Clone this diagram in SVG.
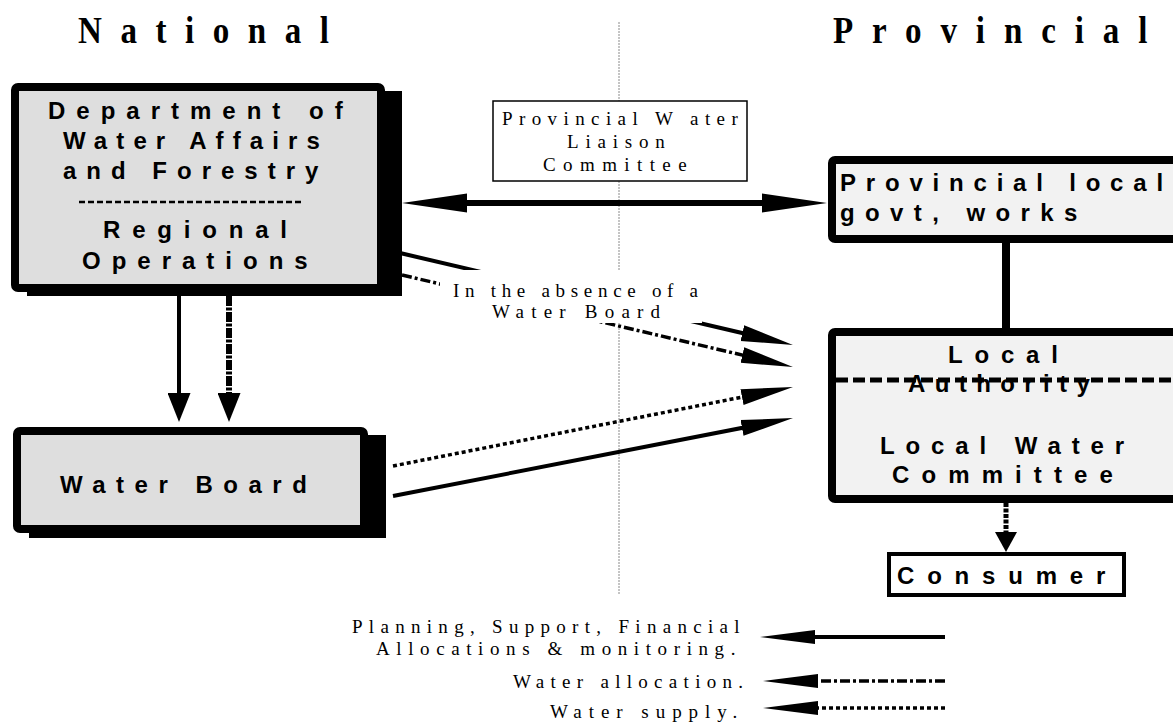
<svg xmlns="http://www.w3.org/2000/svg" width="1173" height="722" viewBox="0 0 1173 722">
<style>
.title{font-family:"Liberation Serif","Times New Roman",serif;font-weight:bold;font-size:38px;fill:#000}
.bold{font-family:"Liberation Sans",Arial,sans-serif;font-weight:bold;font-size:24px;fill:#000}
.serif{font-family:"Liberation Serif","Times New Roman",serif;font-size:19px;fill:#000}
.box{stroke:#000;stroke-width:8}
.shadow{fill:#000}
.solid{stroke:#000;stroke-width:4;fill:none}
.dashdot{stroke:#000;stroke-width:3.5;stroke-dasharray:10 3 3 3;fill:none}
.dotted{stroke:#000;stroke-width:3.5;stroke-dasharray:4 3;fill:none}
.thick{stroke:#000;stroke-width:6;stroke-dasharray:10 1.5 3 1.5;fill:none}
</style>
<defs>
<marker id="dbl" markerUnits="userSpaceOnUse" viewBox="0 0 65 20" markerWidth="65" markerHeight="20" refX="37" refY="10" orient="auto-start-reverse"><path d="M0,0.5 L65,10 L0,19.5 Z" fill="#000"/></marker>
<marker id="vh" markerUnits="userSpaceOnUse" viewBox="0 0 29 23" markerWidth="29" markerHeight="23" refX="19" refY="11.5" orient="auto"><path d="M0,0 L29,11.5 L0,23 Z" fill="#000"/></marker>
<marker id="dh" markerUnits="userSpaceOnUse" viewBox="0 0 52 18" markerWidth="52" markerHeight="18" refX="32" refY="9" orient="auto"><path d="M0,1 L52,9 L0,17 Z" fill="#000"/></marker>
<marker id="ch" markerUnits="userSpaceOnUse" viewBox="0 0 20 22" markerWidth="20" markerHeight="22" refX="10" refY="11" orient="auto"><path d="M0,0 L20,11 L0,22 Z" fill="#000"/></marker>
<marker id="lh" markerUnits="userSpaceOnUse" viewBox="0 0 55 14" markerWidth="55" markerHeight="14" refX="35" refY="7" orient="auto"><path d="M0,0 L55,7 L0,14 Z" fill="#000"/></marker>
</defs>
<rect width="1173" height="722" fill="#fff"/>

<g id="divider">
<line x1="619" y1="22" x2="619" y2="595" stroke="#8a8a8a" stroke-width="1" stroke-dasharray="2 1"/>
</g>

<g id="titles">
<text class="title" transform="translate(78,43) scale(0.87,1)" style="letter-spacing:21.3px">National</text>
<text class="title" transform="translate(833,43) scale(0.87,1)" style="letter-spacing:21.7px">Provincial</text>
</g>

<g id="dwaf">
<rect class="shadow" x="27" y="91" width="375" height="205"/>
<rect class="box" x="15" y="87" width="366" height="201" rx="3" fill="#dedede"/>
<text class="bold" x="48" y="119" style="letter-spacing:11px">Department of</text>
<text class="bold" x="63" y="149" style="letter-spacing:9.1px">Water Affairs</text>
<text class="bold" x="63" y="179" style="letter-spacing:10px">and Forestry</text>
<line x1="79" y1="202" x2="303" y2="202" stroke="#000" stroke-width="2.5" stroke-dasharray="6 3"/>
<text class="bold" x="103" y="238" style="letter-spacing:11.8px">Regional</text>
<text class="bold" x="82" y="269" style="letter-spacing:11px">Operations</text>
</g>

<g id="water-board">
<rect class="shadow" x="29" y="435" width="357" height="103"/>
<rect class="box" x="17" y="431" width="347" height="98" rx="3" fill="#dedede"/>
<text class="bold" x="60" y="493" style="letter-spacing:10.5px">Water Board</text>
</g>

<g id="provincial-local-govt">
<rect class="box" x="832" y="160" width="360" height="79" rx="3" fill="#f2f2f2"/>
<text class="bold" x="840" y="191" style="letter-spacing:9.8px">Provincial local</text>
<text class="bold" x="840" y="221" style="letter-spacing:10.4px">govt, works</text>
</g>

<g id="local-authority">
<rect class="box" x="832" y="332" width="360" height="167" rx="3" fill="#f2f2f2"/>
<text class="bold" x="948" y="363" style="letter-spacing:11.8px">Local</text>
<text class="bold" x="908" y="392" style="letter-spacing:9.4px">Authority</text>
<line x1="836" y1="380" x2="1173" y2="380" stroke="#000" stroke-width="5" stroke-dasharray="12 5"/>
<text class="bold" x="880" y="454" style="letter-spacing:10.9px">Local Water</text>
<text class="bold" x="892" y="483" style="letter-spacing:12.1px">Committee</text>
</g>

<g id="consumer">
<rect x="889" y="554" width="235" height="41" fill="#fff" stroke="#000" stroke-width="4"/>
<text class="bold" x="897" y="584" style="letter-spacing:12.8px">Consumer</text>
</g>

<g id="connectors">
<line x1="430" y1="203" x2="799" y2="203" stroke="#000" stroke-width="6" marker-start="url(#dbl)" marker-end="url(#dbl)"/>
<line class="solid" x1="179" y1="292" x2="179" y2="412" marker-end="url(#vh)"/>
<line class="thick" x1="229" y1="296" x2="229" y2="412" marker-end="url(#vh)"/>
<line class="solid" x1="400" y1="253" x2="773.5" y2="340.4" marker-end="url(#dh)"/>
<line class="dashdot" x1="402" y1="275" x2="773.5" y2="362.4" marker-end="url(#dh)"/>
<line class="dotted" x1="393" y1="466" x2="773.4" y2="390.9" marker-end="url(#dh)"/>
<line class="solid" x1="393" y1="496" x2="773.4" y2="421.8" marker-end="url(#dh)"/>
<line x1="1006" y1="243" x2="1006" y2="330" stroke="#000" stroke-width="8"/>
<line stroke="#000" stroke-width="5" stroke-dasharray="4 1.5" x1="1006" y1="503" x2="1006" y2="542" marker-end="url(#ch)"/>
</g>

<g id="liaison-committee">
<rect x="493" y="101" width="254" height="80" fill="#fff" stroke="#000" stroke-width="1.5"/>
<text class="serif" x="502" y="125" style="letter-spacing:6.4px">Provincial W ater</text>
<text class="serif" x="567" y="148" style="letter-spacing:6.8px">Liaison</text>
<text class="serif" x="543" y="171" style="letter-spacing:7.4px">Committee</text>
</g>

<g id="absence-label">
<rect x="440" y="270" width="262" height="53" fill="#fff"/>
<text class="serif" x="453" y="297" style="letter-spacing:5.7px">In the absence of a</text>
<text class="serif" x="492" y="318" style="letter-spacing:7.2px">Water Board</text>
</g>

<g id="legend">
<text class="serif" x="352" y="633" style="letter-spacing:6.3px">Planning, Support, Financial</text>
<text class="serif" x="376" y="655" style="letter-spacing:6.6px">Allocations &amp; monitoring.</text>
<text class="serif" x="513" y="688" style="letter-spacing:6.3px">Water allocation.</text>
<text class="serif" x="550" y="718" style="letter-spacing:6.95px">Water supply.</text>
<line class="solid" x1="945" y1="637" x2="780" y2="637" marker-end="url(#lh)"/>
<line class="dashdot" x1="945" y1="681" x2="783" y2="681" marker-end="url(#lh)"/>
<line class="dotted" x1="945" y1="708" x2="783" y2="708" marker-end="url(#lh)"/>
</g>
</svg>
